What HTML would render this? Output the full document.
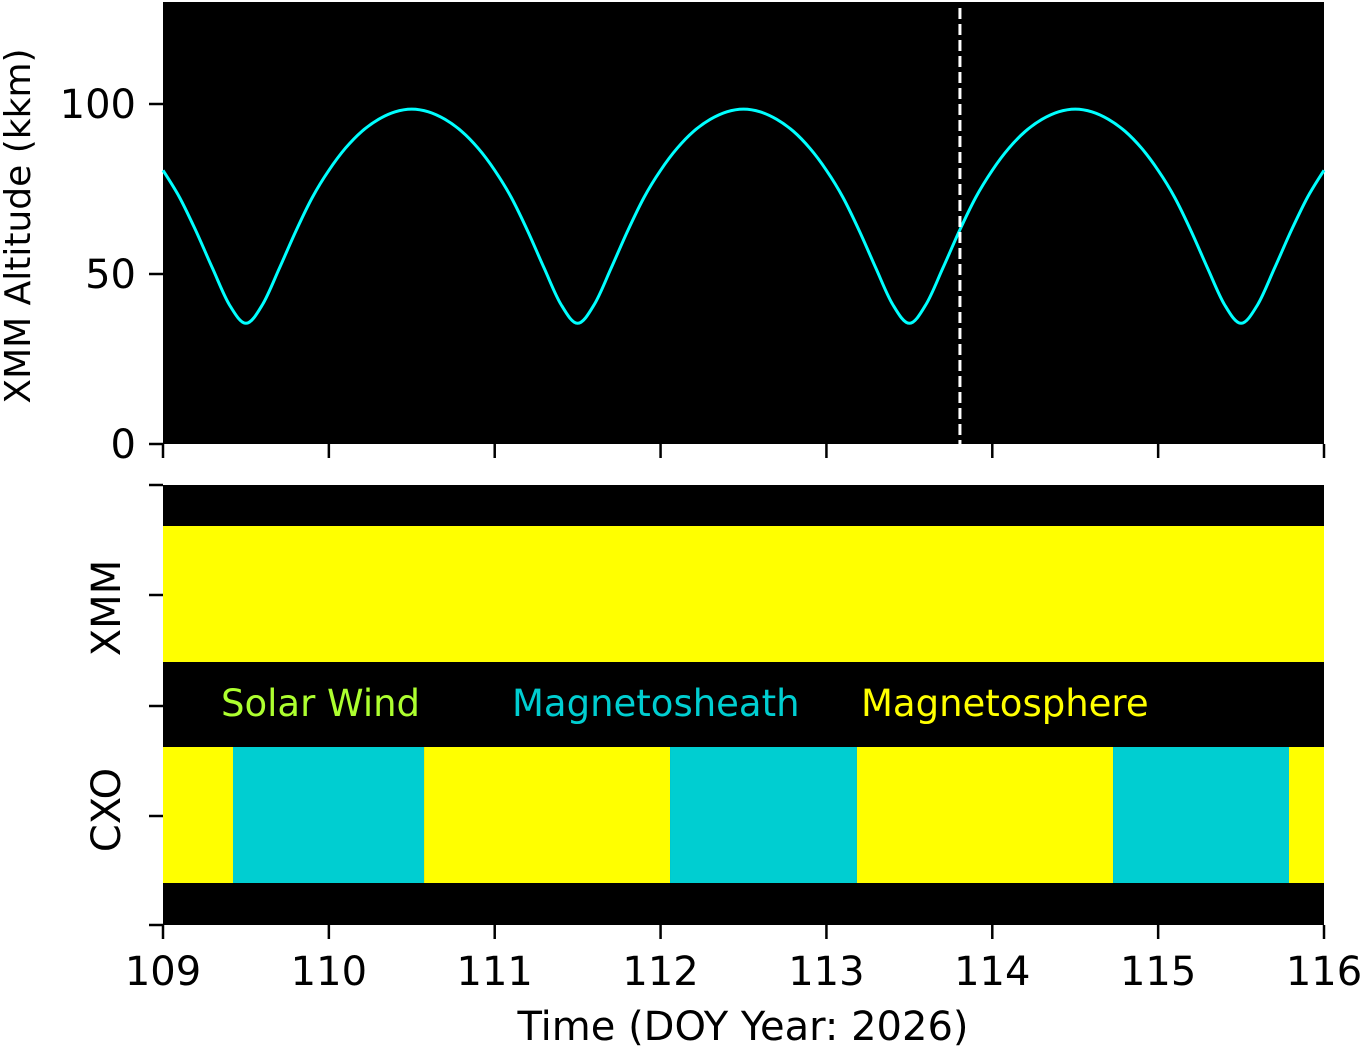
<!DOCTYPE html>
<html><head><meta charset="utf-8"><style>
html,body{margin:0;padding:0;background:#fff;}
svg text{font-family:"DejaVu Sans","Liberation Sans",sans-serif;}
</style></head><body>
<svg id="chart" width="1361" height="1049" xmlns="http://www.w3.org/2000/svg">
<rect x="163" y="2" width="1161" height="442" fill="#000"/>
<rect x="163" y="485" width="1161" height="440" fill="#000"/>
<g id="topg"></g><g id="botg"></g><g id="axesg"></g>
<text x="30" y="226" font-size="36" text-anchor="middle" transform="rotate(-90 30 226)">XMM Altitude (kkm)</text>
<text x="743" y="1040" font-size="40" text-anchor="middle">Time (DOY Year: 2026)</text>
<text x="221" y="716" font-size="37" fill="#adff2f">Solar Wind</text>
<text x="512" y="716" font-size="37" fill="#00ced1">Magnetosheath</text>
<text x="861" y="716" font-size="37" fill="#ffff00">Magnetosphere</text>
</svg>
<script>
const xTicks=[109,110,111,112,113,114,115,116];
const yTicks=[0,50,100];
const altTimes=[];for(let i=0;i<=70;i++)altTimes.push(109+i/10);
const altValues=[80.5,72.5,62.5,51.5,41,35.5,41,51.5,62.5,72.5,80.5,87,92,95.5,97.7,98.5,97.7,95.5,92,87,
80.5,72.5,62.5,51.5,41,35.5,41,51.5,62.5,72.5,80.5,87,92,95.5,97.7,98.5,97.7,95.5,92,87,
80.5,72.5,62.5,51.5,41,35.5,41,51.5,62.5,72.5,80.5,87,92,95.5,97.7,98.5,97.7,95.5,92,87,
80.5,72.5,62.5,51.5,41,35.5,41,51.5,62.5,72.5,80.5];
const nowTime=113.805;
const cxoStarts=[109,109.422,110.574,112.057,113.184,114.728,115.789];
const cxoEnds=[109.422,110.574,112.057,113.184,114.728,115.789,116];
const cxoRegions=["sphere","sheath","sphere","sheath","sphere","sheath","sphere"];
const xmmStarts=[109];const xmmEnds=[116];const xmmRegions=["sphere"];
const regionColor={sphere:"#ffff00",sheath:"#00ced1",wind:"#adff2f"};
const ns="http://www.w3.org/2000/svg";
const X=t=>163+(t-109)*(1161/7);
const Y=v=>444-v*3.4;
function mk(tag,attrs,parent){const e=document.createElementNS(ns,tag);for(const k in attrs)e.setAttribute(k,attrs[k]);parent.appendChild(e);return e;}
const gTop=document.getElementById('topg'),gBot=document.getElementById('botg'),gAx=document.getElementById('axesg');
const pts=altTimes.map((t,i)=>[X(t),Y(altValues[i])]);
let d='M'+pts[0][0].toFixed(1)+','+pts[0][1].toFixed(1);
for(let i=0;i<pts.length-1;i++){const p0=pts[Math.max(0,i-1)],p1=pts[i],p2=pts[i+1],p3=pts[Math.min(pts.length-1,i+2)];
const c1=[p1[0]+(p2[0]-p0[0])/6,p1[1]+(p2[1]-p0[1])/6],c2=[p2[0]-(p3[0]-p1[0])/6,p2[1]-(p3[1]-p1[1])/6];
d+='C'+c1.map(v=>v.toFixed(1)).join(',')+' '+c2.map(v=>v.toFixed(1)).join(',')+' '+p2.map(v=>v.toFixed(1)).join(',');}
const line=mk('path',{d:d,fill:'none',stroke:'#00ffff','stroke-width':3,'stroke-linejoin':'round'},gTop);


const nl=mk('line',{x1:X(nowTime),x2:X(nowTime),y1:8,y2:444,stroke:'#fff','stroke-width':3,'stroke-dasharray':'11,5'},gTop);


function bars(starts,ends,regs,y0,h,name){starts.forEach((s,i)=>{const r=mk('rect',{x:X(s),y:y0,width:X(ends[i])-X(s),height:h,fill:regionColor[regs[i]]},gBot);

});}
bars(xmmStarts,xmmEnds,xmmRegions,526,136,'xmm-region');
bars(cxoStarts,cxoEnds,cxoRegions,747,136,'cxo-region');
xTicks.forEach(t=>{mk('line',{x1:X(t),x2:X(t),y1:444,y2:458,stroke:'#000','stroke-width':2.5},gAx);
mk('line',{x1:X(t),x2:X(t),y1:925,y2:939,stroke:'#000','stroke-width':2.5},gAx);
const tx=mk('text',{x:X(t),y:985,'font-size':40,'text-anchor':'middle'},gAx);tx.textContent=t;

});
yTicks.forEach(v=>{mk('line',{x1:149,x2:163,y1:Y(v),y2:Y(v),stroke:'#000','stroke-width':2.5},gAx);
const tx=mk('text',{x:136,y:Y(v)+14,'font-size':40,'text-anchor':'end'},gAx);tx.textContent=v;

});
[485,595,706,816,925].forEach(y=>mk('line',{x1:149,x2:163,y1:y,y2:y,stroke:'#000','stroke-width':2.5},gAx));
[['XMM',608],['CXO',810]].forEach(([s,y])=>{const tx=mk('text',{x:120,y:y,'font-size':40,'text-anchor':'middle',transform:`rotate(-90 120 ${y})`},gAx);tx.textContent=s;

});
</script>
</body></html>
